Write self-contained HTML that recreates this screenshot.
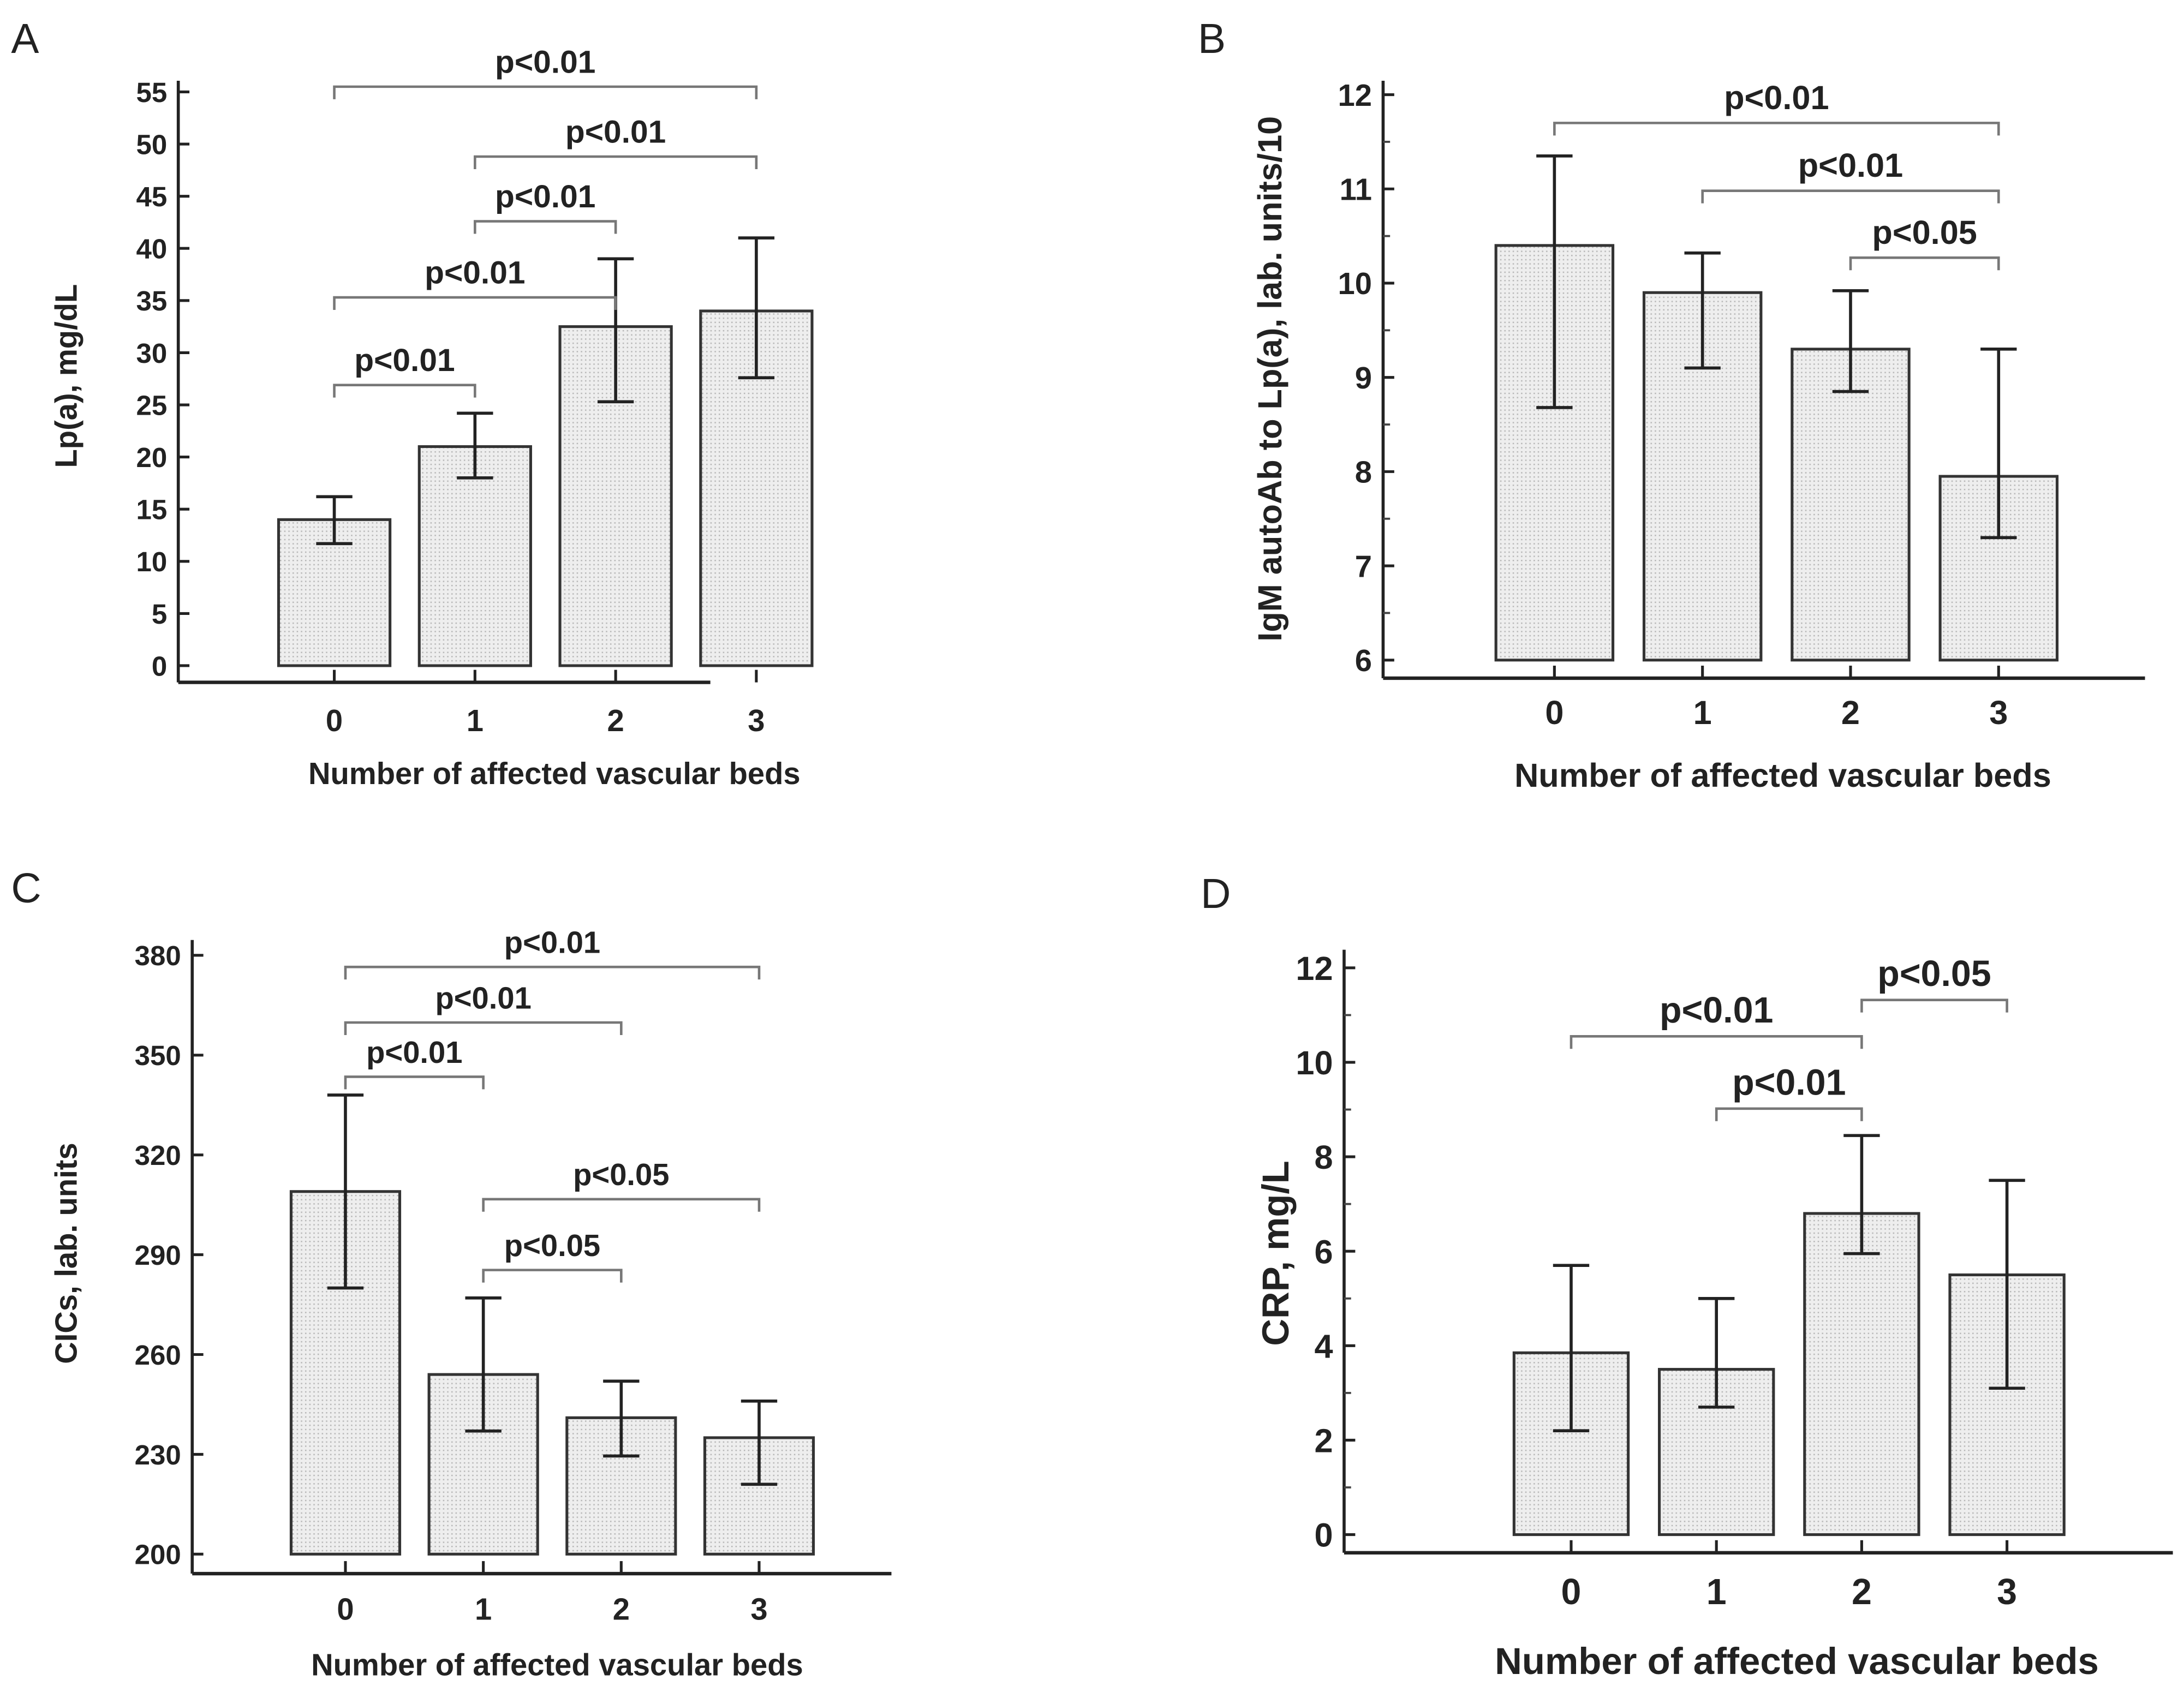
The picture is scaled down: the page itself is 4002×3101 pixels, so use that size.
<!DOCTYPE html>
<html><head><meta charset="utf-8"><style>
html,body{margin:0;padding:0;background:#fff;}
svg{display:block;}
text{font-family:"Liberation Sans",Arial,sans-serif;fill:#222;}
</style></head><body>
<svg id="fig" xmlns="http://www.w3.org/2000/svg" width="4002" height="3101" viewBox="0 0 1568 1215" preserveAspectRatio="none">
<defs>
<pattern id="dots" width="3" height="3" patternUnits="userSpaceOnUse">
<rect width="3" height="3" fill="#eeeeee"/><rect x="0" y="0" width="1" height="1" fill="#b8b8b8"/>
</pattern>
</defs>
</svg>
<script>
// Panel A data
const catsA = ["0","1","2","3"];
const valsA = [14, 21, 32.5, 34];
const loA = [11.7, 18, 25.3, 27.6];
const hiA = [16.2, 24.2, 39, 41];
const ticksA = [0,5,10,15,20,25,30,35,40,45,50,55];
const brA = [[0,3,55.5,"p<0.01"],[1,3,48.8,"p<0.01"],[1,2,42.6,"p<0.01"],[0,2,35.3,"p<0.01"],[0,1,26.9,"p<0.01"]];
// Panel B data
const catsB = ["0","1","2","3"];
const valsB = [10.4, 9.9, 9.3, 7.95];
const loB = [8.68, 9.1, 8.85, 7.3];
const hiB = [11.35, 10.32, 9.92, 9.3];
const ticksB = [6,7,8,9,10,11,12];
const brB = [[0,3,11.7,"p<0.01"],[1,3,10.98,"p<0.01"],[2,3,10.27,"p<0.05"]];
// Panel C data
const catsC = ["0","1","2","3"];
const valsC = [309, 254, 241, 235];
const loC = [280, 237, 229.5, 221];
const hiC = [338, 277, 252, 246];
const ticksC = [200,230,260,290,320,350,380];
const brC = [[0,3,376.5,"p<0.01"],[0,2,359.8,"p<0.01"],[0,1,343.5,"p<0.01"],[1,3,306.7,"p<0.05"],[1,2,285.4,"p<0.05"]];
// Panel D data
const catsD = ["0","1","2","3"];
const valsD = [3.85, 3.5, 6.8, 5.5];
const loD = [2.2, 2.7, 5.95, 3.1];
const hiD = [5.7, 5.0, 8.45, 7.5];
const ticksD = [0,2,4,6,8,10,12];
const brD = [[0,2,10.55,"p<0.01"],[1,2,9.02,"p<0.01"],[2,3,11.32,"p<0.05"]];

const NS="http://www.w3.org/2000/svg";
const svg=document.getElementById('fig');
function el(tag,attrs,parent,txt){const e=document.createElementNS(NS,tag);for(const k in attrs)e.setAttribute(k,attrs[k]);if(txt!==undefined)e.textContent=txt;(parent||svg).appendChild(e);return e;}

function panel(cfg){
  const g=el('g',{});
  
  
  const t0=cfg.ticks[0],t1=cfg.ticks[cfg.ticks.length-1];
  const y=v=>cfg.y0+(v-t0)/(t1-t0)*(cfg.y1-cfg.y0);
  const x=i=>cfg.x0+i*cfg.dx;
  const lt=el('text',{x:cfg.lx,y:cfg.ly,'font-size':30},g,cfg.id.toUpperCase());
  
  
  // axes
  const ya=el('line',{x1:cfg.ax,y1:cfg.axTop,x2:cfg.ax,y2:cfg.axY,stroke:'#222','stroke-width':2.2},g);
  
  
  const xa=el('line',{x1:cfg.ax,y1:cfg.axY,x2:cfg.axEnd,y2:cfg.axY,stroke:'#222','stroke-width':2.5},g);
  
  
  cfg.ticks.forEach((v,i)=>{
    el('line',{x1:cfg.ax,y1:y(v),x2:cfg.ax+8,y2:y(v),stroke:'#222','stroke-width':2},g);
    const tl=el('text',{x:cfg.ax-8,y:y(v)+cfg.fs*0.36,'font-size':cfg.fs,'font-weight':'bold','text-anchor':'end'},g,String(v));
    
    
    if(cfg.minor && i<cfg.ticks.length-1){
      const m=(v+cfg.ticks[i+1])/2;
      el('line',{x1:cfg.ax,y1:y(m),x2:cfg.ax+5,y2:y(m),stroke:'#444','stroke-width':1.5},g);
    }
  });
  const yt=el('text',{x:cfg.ytx,y:cfg.yty,'font-size':cfg.tfs,'font-weight':'bold','text-anchor':'middle',transform:`rotate(-90 ${cfg.ytx} ${cfg.yty})`},g,cfg.ytitle);
  
  
  cfg.cats.forEach((c,i)=>{
    el('line',{x1:x(i),y1:cfg.axY,x2:x(i),y2:cfg.axY-9,stroke:'#222','stroke-width':2},g);
    const xl=el('text',{x:x(i),y:cfg.xly,'font-size':cfg.fs+2,'font-weight':'bold','text-anchor':'middle'},g,c);
    
    
    const b=el('rect',{x:x(i)-cfg.bw/2,y:y(cfg.vals[i]),width:cfg.bw,height:y(t0)-y(cfg.vals[i]),fill:'url(#dots)',stroke:'#333','stroke-width':2},g);
    
    
    const e=el('path',{d:`M${x(i)},${y(cfg.lo[i])}V${y(cfg.hi[i])}M${x(i)-13},${y(cfg.lo[i])}H${x(i)+13}M${x(i)-13},${y(cfg.hi[i])}H${x(i)+13}`,stroke:'#222','stroke-width':2.2,fill:'none'},g);
    
    
  });
  const xt=el('text',{x:cfg.xtx,y:cfg.xty,'font-size':cfg.tfs,'font-weight':'bold','text-anchor':'middle'},g,'Number of affected vascular beds');
  
  
  cfg.br.forEach(b=>{
    const yy=y(b[2]),xa1=x(b[0]),xb=x(b[1]);
    const p=el('path',{d:`M${xa1},${yy+9}V${yy}H${xb}V${yy+9}`,stroke:'#777','stroke-width':1.8,fill:'none'},g);
    
    
    const pt=el('text',{x:(xa1+xb)/2,y:yy-10,'font-size':cfg.pfs,'font-weight':'bold','text-anchor':'middle'},g,b[3]);
    
    
  });
}
panel({id:'a',lx:8,ly:38,ax:128,axTop:58,axY:490,axEnd:510,y0:478,y1:66,ticks:ticksA,cats:catsA,vals:valsA,lo:loA,hi:hiA,br:brA,x0:240,dx:101,bw:80,fs:20,tfs:22,pfs:23,ytitle:'Lp(a), mg/dL',ytx:55,yty:270,xly:525,xtx:398,xty:563});
panel({id:'b',lx:860,ly:38,ax:993,axTop:58,axY:487,axEnd:1540,y0:474,y1:68,ticks:ticksB,minor:true,cats:catsB,vals:valsB,lo:loB,hi:hiB,br:brB,x0:1116,dx:106.3,bw:84,fs:22,tfs:24,pfs:24,ytitle:'IgM autoAb to Lp(a), lab. units/10',ytx:920,yty:272,xly:520,xtx:1280,xty:565});
panel({id:'c',lx:8,ly:648,ax:138,axTop:675,axY:1130,axEnd:640,y0:1116,y1:686,ticks:ticksC,cats:catsC,vals:valsC,lo:loC,hi:hiC,br:brC,x0:248,dx:99,bw:78,fs:20,tfs:22,pfs:22,ytitle:'CICs, lab. units',ytx:55,yty:900,xly:1163,xtx:400,xty:1203});
panel({id:'d',lx:862,ly:652,ax:965,axTop:682,axY:1115,axEnd:1560,y0:1102,y1:695,ticks:ticksD,minor:true,cats:catsD,vals:valsD,lo:loD,hi:hiD,br:brD,x0:1128,dx:104.3,bw:82,fs:24,tfs:27,pfs:26,ytitle:'CRP, mg/L',ytx:925,yty:900,xly:1152,xtx:1290,xty:1202});
</script>
</body></html>
